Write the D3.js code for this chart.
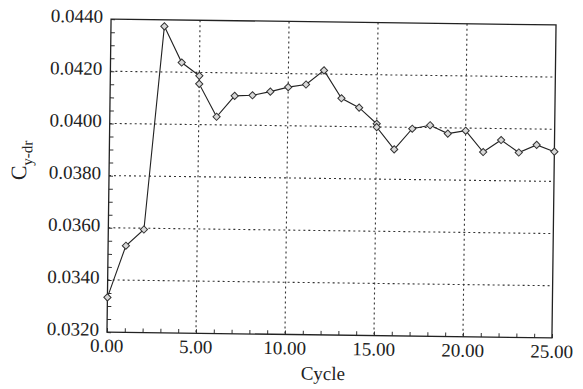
<!DOCTYPE html>
<html>
<head>
<meta charset="utf-8">
<script src="https://cdn.jsdelivr.net/npm/d3@7"></script>
<style>
  body { margin: 0; background: #fff; }
</style>
</head>
<body>
<div id="chart"></div>
<script>
// Cycle number and C_y-dr value
const cycles = [0, 1, 2, 3, 4, 5, 5, 6, 7, 8, 9, 10, 11, 12, 13, 14, 15, 15,
                16, 17, 18, 19, 20, 21, 22, 23, 24, 25];
const cyValues = [0.03333, 0.03532, 0.03595, 0.04375, 0.04237, 0.04187, 0.04156,
                  0.04031, 0.04112, 0.04115, 0.04130, 0.04148, 0.04159, 0.04214,
                  0.04108, 0.04073, 0.04012, 0.03999, 0.03915, 0.03995, 0.04009,
                  0.03978, 0.03990, 0.03909, 0.03956, 0.03909, 0.03939, 0.03914];
const xTicks = [0, 5, 10, 15, 20, 25];
const yTicks = [0.032, 0.034, 0.036, 0.038, 0.040, 0.042, 0.044];

const W = 583, H = 389;
const margin = { top: 22, right: 29, bottom: 54, left: 109 };
const width = W - margin.left - margin.right;
const height = H - margin.top - margin.bottom;
const serif = "'Liberation Serif', 'Times New Roman', 'DejaVu Serif', serif";

const svg = d3.select("#chart")
    .append("svg")
    .attr("width", W)
    .attr("height", H)
    .style("font-family", serif);

// the scan is slightly tilted, so tilt the whole chart a little
const root = svg.append("g")
    .attr("transform", `rotate(0.75, ${margin.left + width / 2}, ${margin.top + height / 2})`);

const g = root.append("g")
    .attr("transform", `translate(${margin.left},${margin.top})`);

const x = d3.scaleLinear().domain([0, 25]).range([0, width]);
const y = d3.scaleLinear().domain([0.032, 0.044]).range([height, 0]);

// dotted grid
g.append("g")
    .selectAll("line")
    .data(yTicks.slice(1, -1))
    .join("line")
    .attr("x1", 0).attr("x2", width)
    .attr("y1", d => y(d)).attr("y2", d => y(d))
    .attr("stroke", "#333").attr("stroke-width", 1.1)
    .attr("stroke-dasharray", "2,3");

g.append("g")
    .selectAll("line")
    .data(xTicks.slice(1, -1))
    .join("line")
    .attr("x1", d => x(d)).attr("x2", d => x(d))
    .attr("y1", 0).attr("y2", height)
    .attr("stroke", "#333").attr("stroke-width", 1.1)
    .attr("stroke-dasharray", "2,3");

// axes: inward minor ticks, labels added separately
const xAxis = g.append("g")
    .attr("transform", `translate(0,${height})`)
    .call(d3.axisBottom(x).ticks(25).tickSize(-4).tickFormat(""));
const yAxis = g.append("g")
    .call(d3.axisLeft(y).ticks(24).tickSize(-4).tickFormat(""));
[xAxis, yAxis].forEach(a => {
    a.select(".domain").remove();
    a.selectAll("line").attr("stroke", "#333");
});

// frame
g.append("rect")
    .attr("width", width)
    .attr("height", height)
    .attr("fill", "none")
    .attr("stroke", "#222")
    .attr("stroke-width", 1.3);

// tick labels
g.append("g")
    .selectAll("text")
    .data(xTicks)
    .join("text")
    .attr("x", d => x(d))
    .attr("y", height + 20)
    .attr("text-anchor", "middle")
    .attr("fill", "#222")
    .style("font-size", "19px")
    .text(d => d3.format(".2f")(d));

g.append("g")
    .selectAll("text")
    .data(yTicks)
    .join("text")
    .attr("x", -8)
    .attr("y", d => y(d))
    .attr("dy", "0.2em")
    .attr("text-anchor", "end")
    .attr("fill", "#222")
    .style("font-size", "19px")
    .text(d => d3.format(".4f")(d));

// axis titles
g.append("text")
    .attr("x", width / 2 - 6)
    .attr("y", height + 45)
    .attr("text-anchor", "middle")
    .attr("fill", "#222")
    .style("font-size", "19px")
    .text("Cycle");

const yTitle = g.append("text")
    .attr("transform", `translate(${-83},${height / 2 - 14}) rotate(-90)`)
    .attr("text-anchor", "middle")
    .attr("fill", "#222")
    .style("font-size", "22px");
yTitle.append("tspan").text("C");
yTitle.append("tspan")
    .attr("dy", 6)
    .style("font-size", "15px")
    .text("y-dr");

// data line and markers
const pts = cycles.map((c, i) => ({ c, v: cyValues[i] }));

g.append("path")
    .datum(pts)
    .attr("fill", "none")
    .attr("stroke", "#222")
    .attr("stroke-width", 1.1)
    .attr("d", d3.line().x(d => x(d.c)).y(d => y(d.v)));

g.append("g")
    .selectAll("path")
    .data(pts)
    .join("path")
    .attr("transform", d => `translate(${x(d.c)},${y(d.v)}) rotate(45)`)
    .attr("d", d3.symbol(d3.symbolSquare, 26))
    .attr("fill", "#d8d8d8")
    .attr("stroke", "#333")
    .attr("stroke-width", 1);
</script>
</body>
</html>
